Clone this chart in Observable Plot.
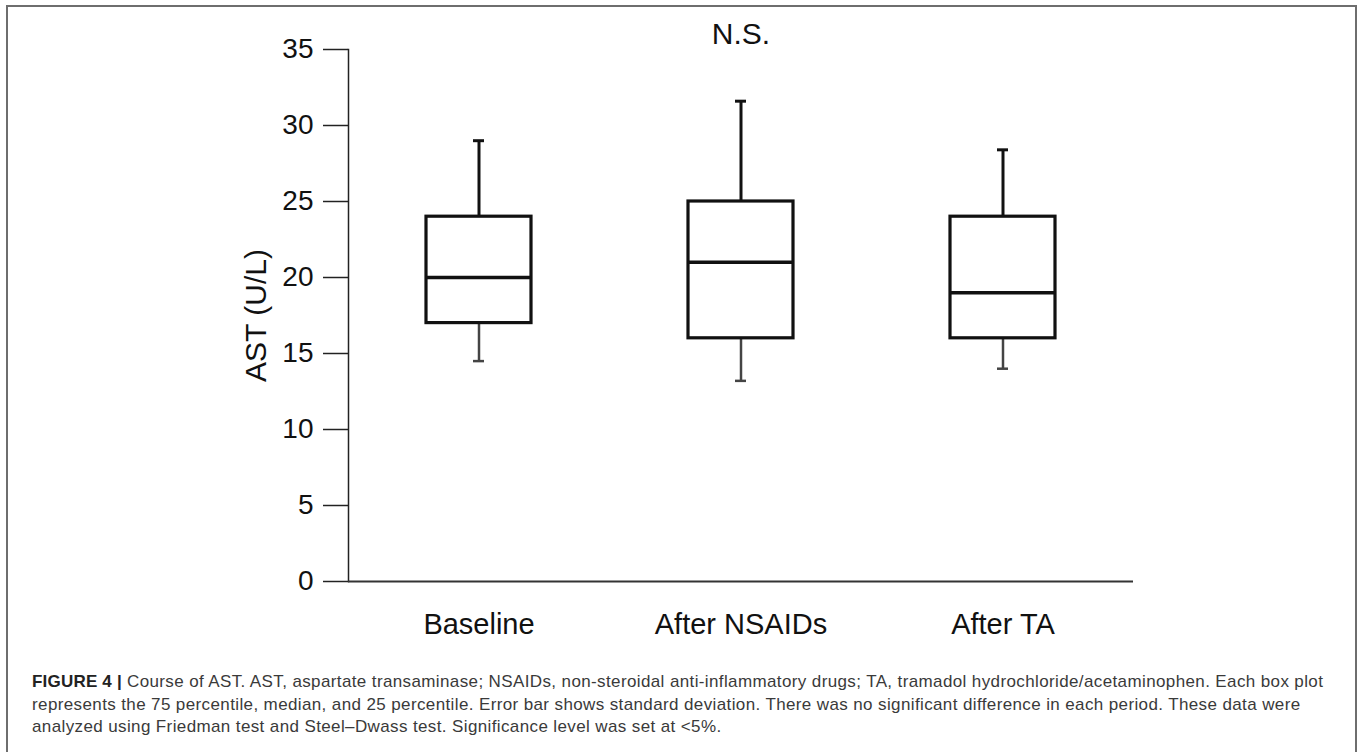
<!DOCTYPE html>
<html>
<head>
<meta charset="utf-8">
<script src="https://cdn.jsdelivr.net/npm/d3@7"></script>
<script src="https://cdn.jsdelivr.net/npm/@observablehq/plot@0.6"></script>
<style>
  html, body { margin: 0; padding: 0; background: #fff; overflow: hidden; width: 1357px; height: 752px; }
  #wrap { position: relative; width: 1357px; height: 752px; }
  #chart { position: absolute; left: 0; top: 0; }
  #frame { position: absolute; left: 6px; top: 5px; width: 1347px; height: 800px;
           border-left: 2px solid #6e6e6e; border-top: 2px solid #6e6e6e; border-right: 2px solid #6e6e6e;
           pointer-events: none; z-index: 5; }
  #caption { position: absolute; left: 32px; top: 671px; width: 1315px; white-space: nowrap;
             font-family: "Liberation Sans", Arial, sans-serif; font-size: 17px; letter-spacing: 0.38px;
             line-height: 22.5px; color: #3a3a3a; }
  #caption b { color: #222; letter-spacing: 0.2px; }
</style>
</head>
<body>
<div id="wrap">
  <div id="chart"></div>
  <div id="frame"></div>
  <div id="caption"><b>FIGURE 4 |</b> Course of AST. AST, aspartate transaminase; NSAIDs, non-steroidal anti-inflammatory drugs; TA, tramadol hydrochloride/acetaminophen. Each box plot<br>represents the 75 percentile, median, and 25 percentile. Error bar shows standard deviation. There was no significant difference in each period. These data were<br>analyzed using Friedman test and Steel–Dwass test. Significance level was set at &lt;5%.</div>
</div>
<script>
const categories = ["Baseline", "After NSAIDs", "After TA"];
const q1 = [17, 16, 16];
const median = [20, 21, 19];
const q3 = [24, 25, 24];
const whiskerLow = [14.5, 13.2, 14.0];
const whiskerHigh = [29.0, 31.6, 28.4];
const yTicks = [0, 5, 10, 15, 20, 25, 30, 35];
const yLabel = "AST (U/L)";
const annotation = "N.S.";

const rows = categories.map((c, i) => ({
  cat: c, q1: q1[i], med: median[i], q3: q3[i], lo: whiskerLow[i], hi: whiskerHigh[i]
}));

const font = "'Liberation Sans', Arial, sans-serif";

const chart = Plot.plot({
  width: 1357,
  height: 660,
  marginLeft: 348,
  marginRight: 224,
  marginTop: 49,
  marginBottom: 79,
  style: { background: "transparent", fontFamily: font, color: "#111" },
  x: { type: "band", domain: categories, paddingInner: 0.6, paddingOuter: 0.295, label: null },
  y: { domain: [0, 35], label: null },
  marks: [
    Plot.axisY({ ticks: yTicks, tickSize: 25, tickPadding: 10, fontSize: 28, stroke: "#222", strokeWidth: 1.5, label: null, tickFormat: d => String(d) }),
    Plot.axisX({ tickSize: 0, tickPadding: 32, fontSize: 29, label: null, style: { letterSpacing: "0.9px" } }),
    Plot.frame({ anchor: "left", stroke: "#222", strokeWidth: 1.5 }),
    Plot.ruleY([0], { stroke: "#333", strokeWidth: 2.2 }),
    // upper whiskers
    Plot.ruleX(rows, { x: "cat", y1: "q3", y2: "hi", stroke: "#111", strokeWidth: 3 }),
    Plot.tickY(rows, { x: "cat", y: "hi", stroke: "#111", strokeWidth: 3, insetLeft: 47, insetRight: 47 }),
    // lower whiskers
    Plot.ruleX(rows, { x: "cat", y1: "lo", y2: "q1", stroke: "#444", strokeWidth: 2.5 }),
    Plot.tickY(rows, { x: "cat", y: "lo", stroke: "#444", strokeWidth: 2.5, insetLeft: 47, insetRight: 47 }),
    // boxes
    Plot.barY(rows, { x: "cat", y1: "q1", y2: "q3", fill: "white", stroke: "#111", strokeWidth: 3.2 }),
    Plot.tickY(rows, { x: "cat", y: "med", stroke: "#111", strokeWidth: 3.6 }),
    // y label
    Plot.text([yLabel], { frameAnchor: "left", text: d => d, rotate: -90, dx: -92, fontSize: 30, fill: "#111", textAnchor: "middle", lineAnchor: "middle" }),
    // N.S.
    Plot.text([annotation], { x: () => categories[1], frameAnchor: "top", text: d => d, dy: -15, fontSize: 30, fill: "#111", lineAnchor: "middle" })
  ]
});
document.getElementById("chart").appendChild(chart);
</script>
</body>
</html>
